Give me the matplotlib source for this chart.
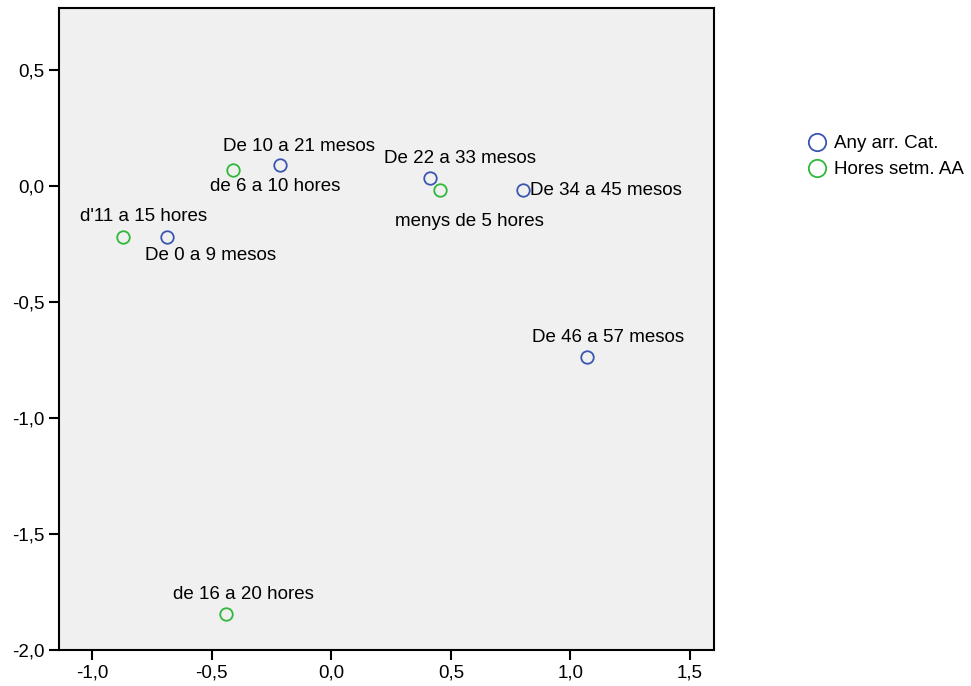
import matplotlib.pyplot as plt
from matplotlib.lines import Line2D
from matplotlib.ticker import FuncFormatter

plt.rcParams['font.family'] = ['Liberation Sans', 'DejaVu Sans']

# Any arr. Cat.
mesos_labels = ["De 0 a 9 mesos", "De 10 a 21 mesos", "De 22 a 33 mesos",
                "De 34 a 45 mesos", "De 46 a 57 mesos"]
mesos_x = [-0.685, -0.214, 0.412, 0.803, 1.071]
mesos_y = [-0.222, 0.091, 0.035, -0.017, -0.736]

# Hores setm. AA
hores_labels = ["d'11 a 15 hores", "de 6 a 10 hores", "menys de 5 hores",
                "de 16 a 20 hores"]
hores_x = [-0.870, -0.412, 0.454, -0.441]
hores_y = [-0.219, 0.069, -0.017, -1.844]

# label offsets in pixels (dx, dy) and alignment
mesos_off = [(43, -18, 'center'), (19, 18, 'center'), (30, 19, 'center'),
             (7, -1, 'left'), (21, 19, 'center')]
hores_off = [(20, 20, 'center'), (43, -17, 'center'), (30, -32, 'center'),
             (18, 19, 'center')]

blue = '#3a56b0'
green = '#2fb83a'
fs = 13.5

fig = plt.figure(figsize=(9.71, 6.86), dpi=100)
ax = fig.add_axes([59 / 971, 36 / 686, 655 / 971, 642 / 686])
ax.set_facecolor('#f0f0f0')

ax.plot(mesos_x, mesos_y, 'o', ms=9, mfc='none', mec=blue, mew=1.3, ls='none')
ax.plot(hores_x, hores_y, 'o', ms=9, mfc='none', mec=green, mew=1.3, ls='none')

for lab, x, y, (dx, dy, ha) in zip(mesos_labels, mesos_x, mesos_y, mesos_off):
    ax.annotate(lab, (x, y), xytext=(dx * 0.72, dy * 0.72), textcoords='offset points',
                ha=ha, va='center', fontsize=fs)
for lab, x, y, (dx, dy, ha) in zip(hores_labels, hores_x, hores_y, hores_off):
    ax.annotate(lab, (x, y), xytext=(dx * 0.72, dy * 0.72), textcoords='offset points',
                ha=ha, va='center', fontsize=fs)

ax.set_xlim(-1.138, 1.60)
ax.set_ylim(-2.0, 0.767)
ax.set_xticks([-1.0, -0.5, 0.0, 0.5, 1.0, 1.5])
ax.set_yticks([-2.0, -1.5, -1.0, -0.5, 0.0, 0.5])
fmt = FuncFormatter(lambda v, p: ('%.1f' % v).replace('.', ','))
ax.xaxis.set_major_formatter(fmt)
ax.yaxis.set_major_formatter(fmt)
ax.tick_params(direction='out', length=7, width=1.5, labelsize=fs, colors='black')
for s in ax.spines.values():
    s.set_linewidth(1.5)

handles = [Line2D([], [], marker='o', ls='none', ms=12.5, mfc='none', mec=blue, mew=1.3),
           Line2D([], [], marker='o', ls='none', ms=12.5, mfc='none', mec=green, mew=1.3)]
fig.legend(handles, ["Any arr. Cat.", "Hores setm. AA"], loc='upper left',
           bbox_to_anchor=(796 / 971, 1 - 126 / 686), frameon=False, fontsize=fs,
           handletextpad=0.35, labelspacing=0.45, borderpad=0, handlelength=1.2)

fig.savefig('out.png', dpi=100)
